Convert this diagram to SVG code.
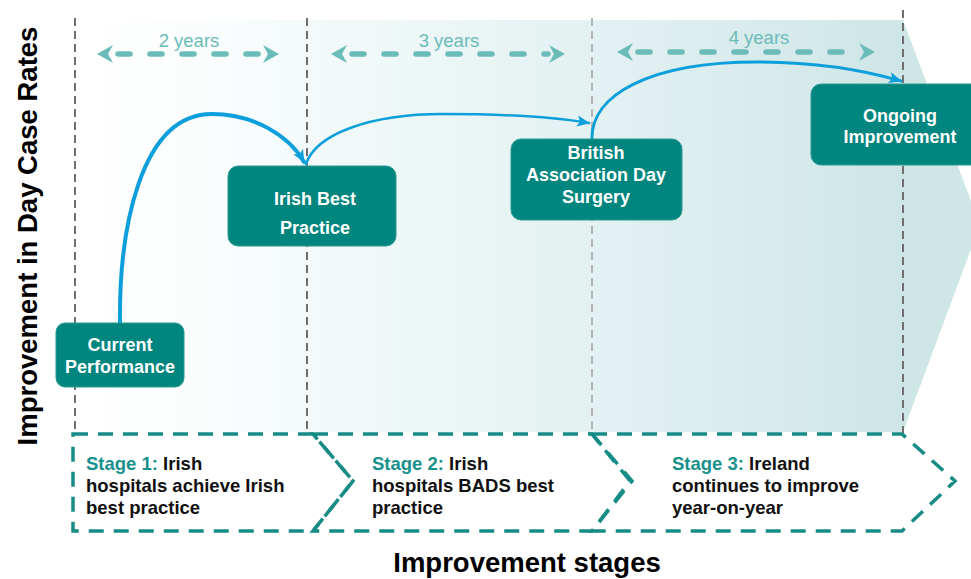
<svg xmlns="http://www.w3.org/2000/svg" width="971" height="579" viewBox="0 0 971 579">
<defs>
<linearGradient id="bg" gradientUnits="userSpaceOnUse" x1="75" y1="0" x2="903" y2="0">
<stop offset="0" stop-color="#ffffff"/>
<stop offset="0.12" stop-color="#fcfefe"/>
<stop offset="0.4" stop-color="#eef7f7"/>
<stop offset="0.7" stop-color="#dfeff0"/>
<stop offset="1" stop-color="#cfe6e6"/>
</linearGradient>
<marker id="bh" markerUnits="userSpaceOnUse" markerWidth="14" markerHeight="14" viewBox="0 0 14 14" refX="12" refY="7" orient="auto">
<path d="M0,1.5 L13,7 L0,12.5 L3,7 Z" fill="#0d9fdb"/>
</marker>
</defs>
<style>
.vline{stroke:#6e6e6e;stroke-width:2;stroke-dasharray:8 5;fill:none}
.vlight{stroke:#b4b4b4}
.dur{stroke:#6bbcb9;stroke-width:5.5;stroke-dasharray:12 20;stroke-linecap:round;fill:none}
.head{fill:#6bbcb9}
.dtxt{font-family:"Liberation Sans",Arial,sans-serif;font-size:18.5px;fill:#6bbcb9;text-anchor:middle}
.node rect{fill:#00857f;stroke:#2a9a95;stroke-width:1}
.ntxt{font-family:"Liberation Sans",Arial,sans-serif;font-size:18px;font-weight:bold;fill:#ffffff;text-anchor:middle}
.link{fill:none;stroke:#0d9fdb;stroke-linecap:round}
.stage{fill:none;stroke:#178c87;stroke-width:3.5;stroke-dasharray:15 10}
.stxt{font-family:"Liberation Sans",Arial,sans-serif;font-size:18.5px;font-weight:bold;fill:#111111}
.sl{fill:#17918b}
.axis{font-family:"Liberation Sans",Arial,sans-serif;font-size:27.5px;font-weight:bold;fill:#000000}
</style>
<rect width="971" height="579" fill="#ffffff"/>
<polygon id="band" points="75,20 903,20 980,225 903,432 75,432" fill="url(#bg)"/>
<g id="dividers">
<line class="vline" x1="75" y1="18" x2="75" y2="434"/>
<line class="vline" x1="307" y1="18" x2="307" y2="434"/>
<line class="vline vlight" x1="592" y1="18" x2="592" y2="434"/>
<line class="vline" x1="903" y1="10" x2="903" y2="434"/>
</g>
<g id="durations">
<line class="dur" x1="118" y1="54" x2="262" y2="54"/>
<path class="head" d="M97,54 L113,45 L108,54 L113,63 Z"/>
<path class="head" d="M279,54 L263,45 L268,54 L263,63 Z"/>
<text class="dtxt" x="189" y="47">2 years</text>
<line class="dur" x1="352" y1="54" x2="548" y2="54"/>
<path class="head" d="M331,54 L347,45 L342,54 L347,63 Z"/>
<path class="head" d="M565,54 L549,45 L554,54 L549,63 Z"/>
<text class="dtxt" x="449" y="47">3 years</text>
<line class="dur" x1="638" y1="52" x2="858" y2="52"/>
<path class="head" d="M617,52 L633,43 L628,52 L633,61 Z"/>
<path class="head" d="M875,52 L859,43 L864,52 L859,61 Z"/>
<text class="dtxt" x="759" y="44">4 years</text>
</g>
<g id="connectors">
<path class="link" stroke-width="4" d="M120,323 C119,230 140,114 212,114 C255,114 290,137 304,162" marker-end="url(#bh)"/>
<path class="link" stroke-width="2.5" d="M306,164 C316,134 370,114 443,114 C510,114 560,118 589,123" marker-end="url(#bh)"/>
<path class="link" stroke-width="3" d="M592,140 C590,95 650,62 757,62 C820,62 870,72 901,81" marker-end="url(#bh)"/>
</g>
<g id="node-current" class="node">
<rect x="56" y="323" width="128" height="64" rx="9"/>
<text class="ntxt" x="120" y="351">Current</text>
<text class="ntxt" x="120" y="373">Performance</text>
</g>
<g id="node-irish" class="node">
<rect x="228" y="166" width="168" height="80" rx="10"/>
<text class="ntxt" x="315" y="205">Irish Best</text>
<text class="ntxt" x="315" y="234">Practice</text>
</g>
<g id="node-bads" class="node">
<rect x="511" y="139" width="171" height="81" rx="10"/>
<text class="ntxt" x="596" y="159">British</text>
<text class="ntxt" x="596" y="181">Association Day</text>
<text class="ntxt" x="596" y="203">Surgery</text>
</g>
<g id="node-ongoing" class="node">
<rect x="811" y="84" width="170" height="81" rx="10"/>
<text class="ntxt" x="900" y="122">Ongoing</text>
<text class="ntxt" x="900" y="143">Improvement</text>
</g>
<g id="stages">
<path class="stage" d="M73,434 H313 L353,481 L313,531 H73 Z"/>
<path class="stage" d="M313,434 H592 L630,481 L592,531 H313 L353,481 Z"/>
<path class="stage" d="M592,434 H902 L955,481 L902,531 H592 L632,481 Z"/>
<text class="stxt" x="86" y="470"><tspan class="sl">Stage 1:</tspan> Irish</text>
<text class="stxt" x="86" y="492">hospitals achieve Irish</text>
<text class="stxt" x="86" y="514">best practice</text>
<text class="stxt" x="372" y="470"><tspan class="sl">Stage 2:</tspan> Irish</text>
<text class="stxt" x="372" y="492">hospitals BADS best</text>
<text class="stxt" x="372" y="514">practice</text>
<text class="stxt" x="672" y="470"><tspan class="sl">Stage 3:</tspan> Ireland</text>
<text class="stxt" x="672" y="492">continues to improve</text>
<text class="stxt" x="672" y="514">year-on-year</text>
</g>
<text class="axis" x="527" y="572" text-anchor="middle">Improvement stages</text>
<text class="axis" transform="translate(37,236) rotate(-90)" text-anchor="middle">Improvement in Day Case Rates</text>
</svg>
